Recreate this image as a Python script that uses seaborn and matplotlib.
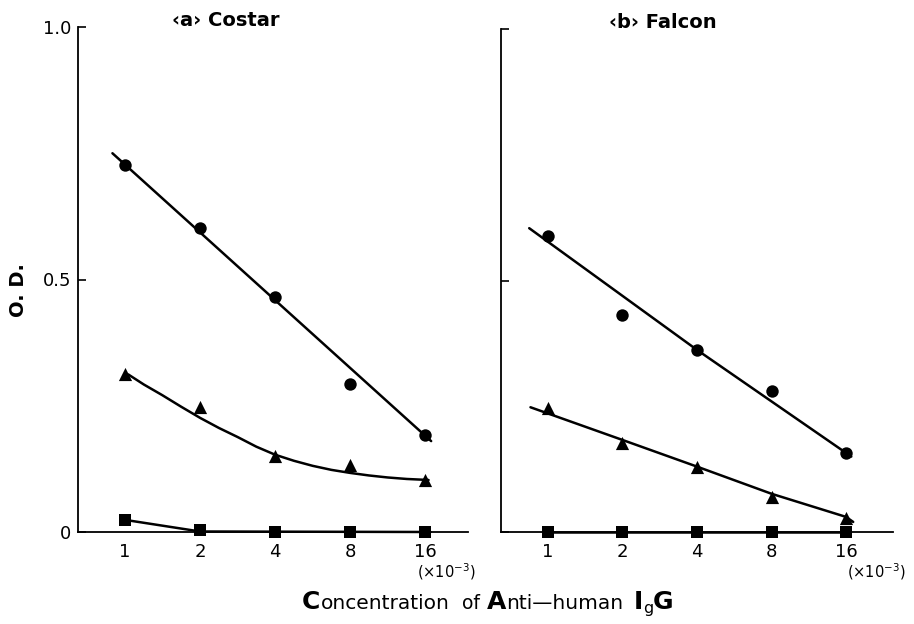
import numpy as np
import pandas as pd
import matplotlib
matplotlib.use("Agg")
import matplotlib.pyplot as plt
import seaborn as sns

# ---------------- data ----------------
conc = [1, 2, 4, 8, 16]
tick_labels = ["1", "2", "4", "8", "16"]

# (a) Costar
a_circle = [0.727, 0.602, 0.465, 0.293, 0.192]
a_triangle = [0.313, 0.248, 0.150, 0.133, 0.103]
a_square = [0.024, 0.003, 0.0, 0.0, 0.0]
# fitted curves drawn in the original
a_circle_fit_x = [0.89, 16.9]
a_circle_fit_y = [0.750, 0.180]
a_triangle_fit_x = [1.03, 1.19, 1.41, 1.68, 2, 2.38, 2.83, 3.36, 4, 4.76,
                    5.66, 6.73, 8, 9.5, 11.3, 13.5, 16.5]
a_triangle_fit_y = [0.312, 0.292, 0.271, 0.248, 0.226, 0.206, 0.188, 0.169,
                    0.153, 0.141, 0.131, 0.123, 0.117, 0.112, 0.108, 0.105,
                    0.103]
a_square_fit_x = [1, 2, 16.8]
a_square_fit_y = [0.024, 0.001, 0.0]

# (b) Falcon
b_circle = [0.588, 0.431, 0.362, 0.280, 0.157]
b_triangle = [0.246, 0.177, 0.129, 0.070, 0.028]
b_square = [0.0, 0.0, 0.0, 0.0, 0.0]
b_circle_fit_x = [0.84, 4, 16.8]
b_circle_fit_y = [0.604, 0.362, 0.150]
b_triangle_fit_x = [0.85, 2, 4, 8, 16, 17.1]
b_triangle_fit_y = [0.248, 0.183, 0.130, 0.076, 0.030, 0.020]
b_square_fit_x = [1, 16.6]
b_square_fit_y = [0.0, 0.0]

# ---------------- figure ----------------
sns.set_theme(style="ticks")
plt.rcParams["font.family"] = ["DejaVu Sans"]
W, H = 914, 624
fig = plt.figure(figsize=(W / 100, H / 100), dpi=100)
fig.patch.set_facecolor("white")

axA = fig.add_axes([78 / W, 1 - 532 / H, (468 - 78) / W, 505 / H])
axB = fig.add_axes([501 / W, 1 - 532 / H, (893 - 501) / W, 503 / H])

def draw_panel(ax, circ, tri, sq, fits, xlim):
    ax.set_facecolor("white")
    for fx, fy in fits:
        sns.lineplot(x=fx, y=fy, ax=ax, color="black", lw=1.8,
                     sort=False, estimator=None, zorder=2, clip_on=False)
    sns.scatterplot(x=conc, y=circ, ax=ax, marker="o", color="black",
                    s=80, edgecolor="black", linewidth=0, zorder=3,
                    clip_on=False)
    sns.scatterplot(x=conc, y=tri, ax=ax, marker="^", color="black",
                    s=90, edgecolor="black", linewidth=0, zorder=3,
                    clip_on=False)
    sns.scatterplot(x=conc, y=sq, ax=ax, marker="s", color="black",
                    s=80, edgecolor="black", linewidth=0, zorder=3,
                    clip_on=False)
    ax.set_xscale("log", base=2)
    ax.set_xlim(*xlim)
    ax.set_ylim(0, 1.0)
    ax.set_xticks(conc)
    ax.set_xticklabels(tick_labels, fontsize=13)
    ax.xaxis.set_minor_locator(matplotlib.ticker.NullLocator())
    ax.tick_params(axis="x", length=0, pad=8, colors="black")
    ax.set_yticks([0, 0.5, 1.0])
    ax.tick_params(axis="y", direction="in", length=6, width=1.2,
                   colors="black", pad=5)
    for s in ["top", "right"]:
        ax.spines[s].set_visible(False)
    for s in ["left", "bottom"]:
        ax.spines[s].set_color("black")
        ax.spines[s].set_linewidth(1.3)
    ax.set_xlabel("")
    ax.set_ylabel("")

draw_panel(axA, a_circle, a_triangle, a_square,
           [(a_circle_fit_x, a_circle_fit_y),
            (a_triangle_fit_x, a_triangle_fit_y),
            (a_square_fit_x, a_square_fit_y)],
           (2 ** -0.627, 2 ** 4.57))
axA.set_yticklabels(["0", "0.5", "1.0"], fontsize=13)

draw_panel(axB, b_circle, b_triangle, b_square,
           [(b_circle_fit_x, b_circle_fit_y),
            (b_triangle_fit_x, b_triangle_fit_y),
            (b_square_fit_x, b_square_fit_y)],
           (2 ** -0.63, 2 ** 4.63))
axB.set_yticklabels([])

# multiplier notes
fig.text(417 / W, 1 - 572 / H, r"($\times$10$^{-3}$)", fontsize=10.5,
         va="center", ha="left", color="black")
fig.text(847 / W, 1 - 572 / H, r"($\times$10$^{-3}$)", fontsize=10.5,
         va="center", ha="left", color="black")

# titles
fig.text(226 / W, 1 - 20 / H, "\u2039a\u203a Costar", fontsize=14,
         fontweight="bold", ha="center", va="center", color="black")
fig.text(663 / W, 1 - 22 / H, "\u2039b\u203a Falcon", fontsize=14,
         fontweight="bold", ha="center", va="center", color="black")

# y label
fig.text(18 / W, 1 - 290 / H, "O. D.", fontsize=14, fontweight="bold",
         rotation=90, ha="center", va="center", color="black")

# x label built from pieces of different sizes
pieces = [("C", 18, "bold"), ("oncentration", 14.5, "normal"),
          ("of", 13.5, "normal"), ("A", 18, "bold"),
          ("nti\u2014human", 14.5, "normal"), ("I", 18, "bold"),
          ("g", 11.5, "normal"), ("G", 18, "bold")]
gaps_after = [0, 13, 7, 0, 10, 0, 0, 0]
baseline = 1 - 609 / H
fig.canvas.draw()
renderer = fig.canvas.get_renderer()
objs = []
for s, fs, fw in pieces:
    t = fig.text(0, baseline, s, fontsize=fs, fontweight=fw,
                 ha="left", va="baseline", color="black")
    objs.append(t)
widths = [t.get_window_extent(renderer).width for t in objs]
total = sum(widths) + sum(gaps_after)
x = 488 - total / 2
for t, w, g, (s, fs, fw) in zip(objs, widths, gaps_after, pieces):
    y = baseline
    if s == "g":
        y = baseline - 4 / H
    t.set_position((x / W, y))
    x += w + g

fig.savefig("out.png", dpi=100, facecolor="white")
